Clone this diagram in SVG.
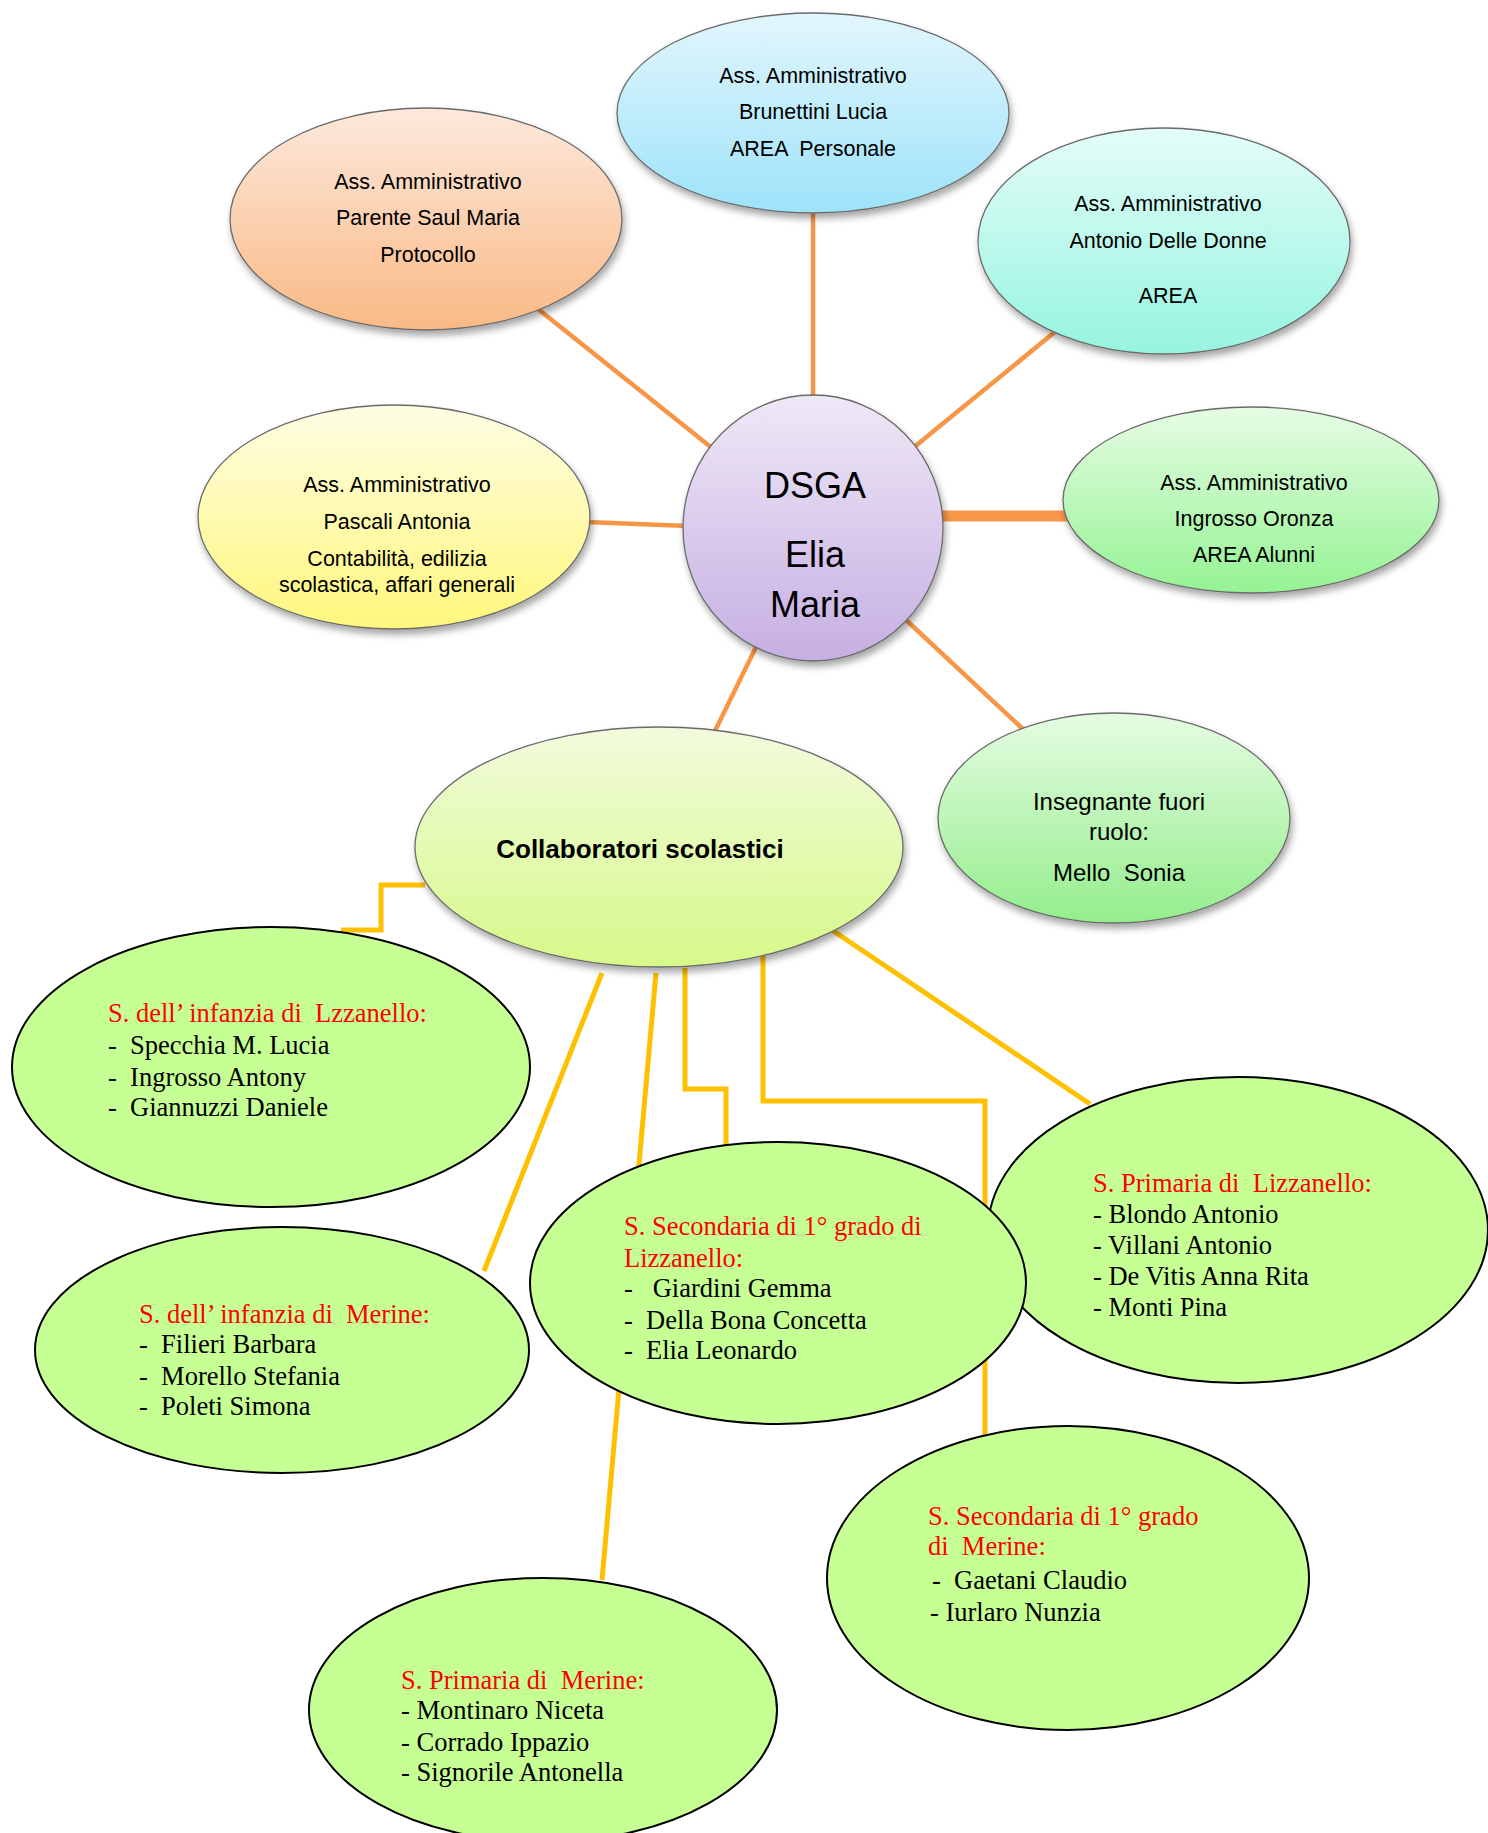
<svg xmlns="http://www.w3.org/2000/svg" width="1488" height="1833" viewBox="0 0 1488 1833">
<style>
.n{stroke:#6b6b6b;stroke-width:1.3;filter:url(#sh)}
.s{fill:#C6FF94;stroke:#000;stroke-width:2}
.t{font-family:"Liberation Sans",Arial,sans-serif;font-size:21.5px;fill:#000;text-anchor:middle}
.d{font-family:"Liberation Sans",Arial,sans-serif;font-size:36px;fill:#000;text-anchor:middle}
.b{font-family:"Liberation Sans",Arial,sans-serif;font-size:26px;font-weight:bold;fill:#000;text-anchor:middle}
.r{font-family:"Liberation Serif","Times New Roman",serif;font-size:26.5px;fill:#FF0000;white-space:pre}
.k{font-family:"Liberation Serif","Times New Roman",serif;font-size:26.5px;fill:#000;white-space:pre}
.o{stroke:#F79646;stroke-width:4.5;fill:none}
.y{stroke:#FFC000;stroke-width:5;fill:none}
</style>
<defs>
<filter id="sh" x="-10%" y="-10%" width="120%" height="130%">
<feDropShadow dx="2" dy="5" stdDeviation="3.5" flood-color="#000" flood-opacity="0.35"/>
</filter>
<linearGradient id="gBlue" x1="0" y1="0" x2="0" y2="1"><stop offset="0" stop-color="#E2F6FD"/><stop offset="1" stop-color="#9DE3F9"/></linearGradient>
<linearGradient id="gOrange" x1="0" y1="0" x2="0" y2="1"><stop offset="0" stop-color="#FDE9DC"/><stop offset="1" stop-color="#F9B985"/></linearGradient>
<linearGradient id="gAqua" x1="0" y1="0" x2="0" y2="1"><stop offset="0" stop-color="#E4FDF8"/><stop offset="1" stop-color="#96F4E0"/></linearGradient>
<linearGradient id="gYellow" x1="0" y1="0" x2="0" y2="1"><stop offset="0" stop-color="#FEFDE4"/><stop offset="1" stop-color="#FFF77C"/></linearGradient>
<linearGradient id="gLav" x1="0" y1="0" x2="0" y2="1"><stop offset="0" stop-color="#EFE8F7"/><stop offset="1" stop-color="#C6AFE2"/></linearGradient>
<linearGradient id="gGreen" x1="0" y1="0" x2="0" y2="1"><stop offset="0" stop-color="#E6FCE4"/><stop offset="1" stop-color="#95F393"/></linearGradient>
<linearGradient id="gLime" x1="0" y1="0" x2="0" y2="1"><stop offset="0" stop-color="#F2FBDD"/><stop offset="1" stop-color="#D6F989"/></linearGradient>
<linearGradient id="gGreen2" x1="0" y1="0" x2="0" y2="1"><stop offset="0" stop-color="#E5FCE2"/><stop offset="1" stop-color="#94EE8C"/></linearGradient>
</defs>
<rect width="1488" height="1833" fill="#fff"/>

<g id="connectors">
<line class="o" x1="813" y1="210" x2="813" y2="400"/>
<line class="o" x1="538" y1="309" x2="712" y2="448"/>
<line class="o" x1="1056" y1="331" x2="913" y2="448"/>
<line class="o" x1="586" y1="522" x2="688" y2="526"/>
<line class="o" x1="938" y1="516" x2="1068" y2="516" style="stroke-width:11"/>
<line class="o" x1="905" y1="619" x2="1026" y2="732"/>
<line class="o" x1="757" y1="645" x2="713" y2="735"/>
<polyline class="y" points="425,885 381,885 381,930 341,930"/>
<line class="y" x1="602" y1="973" x2="484" y2="1271"/>
<line class="y" x1="656" y1="973" x2="602" y2="1580"/>
<polyline class="y" points="685,968 685,1089 726,1089 726,1145"/>
<polyline class="y" points="763,945 763,1101 985,1101 985,1442"/>
<line class="y" x1="829" y1="928" x2="1090" y2="1104"/>
</g>

<g id="brunettini">
<ellipse class="n" cx="813" cy="113" rx="196" ry="100" fill="url(#gBlue)"/>
<text class="t" x="813" y="83">Ass. Amministrativo</text>
<text class="t" x="813" y="119">Brunettini Lucia</text>
<text class="t" x="813" y="156" style="white-space:pre">AREA  Personale</text>
</g>

<g id="parente">
<ellipse class="n" cx="426" cy="219" rx="196" ry="111" fill="url(#gOrange)"/>
<text class="t" x="428" y="189">Ass. Amministrativo</text>
<text class="t" x="428" y="225">Parente Saul Maria</text>
<text class="t" x="428" y="262">Protocollo</text>
</g>

<g id="delledonne">
<ellipse class="n" cx="1164" cy="241" rx="186" ry="113" fill="url(#gAqua)"/>
<text class="t" x="1168" y="211">Ass. Amministrativo</text>
<text class="t" x="1168" y="248">Antonio Delle Donne</text>
<text class="t" x="1168" y="303">AREA</text>
</g>

<g id="pascali">
<ellipse class="n" cx="394" cy="517" rx="196" ry="112" fill="url(#gYellow)"/>
<text class="t" x="397" y="492">Ass. Amministrativo</text>
<text class="t" x="397" y="529">Pascali Antonia</text>
<text class="t" x="397" y="566">Contabilità, edilizia</text>
<text class="t" x="397" y="592">scolastica, affari generali</text>
</g>

<g id="dsga">
<ellipse class="n" cx="813" cy="528" rx="130" ry="133" fill="url(#gLav)"/>
<text class="d" x="815" y="498">DSGA</text>
<text class="d" x="815" y="567">Elia</text>
<text class="d" x="815" y="617">Maria</text>
</g>

<g id="ingrosso">
<ellipse class="n" cx="1251" cy="500" rx="188" ry="93" fill="url(#gGreen)"/>
<text class="t" x="1254" y="490">Ass. Amministrativo</text>
<text class="t" x="1254" y="526">Ingrosso Oronza</text>
<text class="t" x="1254" y="562">AREA Alunni</text>
</g>

<g id="insegnante">
<ellipse class="n" cx="1114" cy="818" rx="176" ry="105" fill="url(#gGreen2)"/>
<text class="t" x="1119" y="810" style="font-size:24px">Insegnante fuori</text>
<text class="t" x="1119" y="840" style="font-size:24px">ruolo:</text>
<text class="t" x="1119" y="881" style="font-size:24px;white-space:pre">Mello  Sonia</text>
</g>

<g id="collaboratori">
<ellipse class="n" cx="659" cy="847" rx="244" ry="120" fill="url(#gLime)"/>
<text class="b" x="640" y="858">Collaboratori scolastici</text>
</g>

<g id="infanzia-lizzanello">
<ellipse class="s" cx="271" cy="1067" rx="259" ry="140"/>
<text class="r" x="108" y="1022">S. dell’ infanzia di  Lzzanello:</text>
<text class="k" x="108" y="1054">-  Specchia M. Lucia</text>
<text class="k" x="108" y="1086">-  Ingrosso Antony</text>
<text class="k" x="108" y="1116">-  Giannuzzi Daniele</text>
</g>

<g id="infanzia-merine">
<ellipse class="s" cx="282" cy="1350" rx="247" ry="123"/>
<text class="r" x="139" y="1323">S. dell’ infanzia di  Merine:</text>
<text class="k" x="139" y="1353">-  Filieri Barbara</text>
<text class="k" x="139" y="1385">-  Morello Stefania</text>
<text class="k" x="139" y="1415">-  Poleti Simona</text>
</g>

<g id="primaria-lizzanello">
<ellipse class="s" cx="1238" cy="1230" rx="250" ry="153"/>
<text class="r" x="1093" y="1192">S. Primaria di  Lizzanello:</text>
<text class="k" x="1093" y="1223">- Blondo Antonio</text>
<text class="k" x="1093" y="1254">- Villani Antonio</text>
<text class="k" x="1093" y="1285">- De Vitis Anna Rita</text>
<text class="k" x="1093" y="1316">- Monti Pina</text>
</g>

<g id="secondaria-lizzanello">
<ellipse class="s" cx="778" cy="1283" rx="248" ry="141"/>
<text class="r" x="624" y="1235">S. Secondaria di 1° grado di</text>
<text class="r" x="624" y="1267">Lizzanello:</text>
<text class="k" x="624" y="1297">-   Giardini Gemma</text>
<text class="k" x="624" y="1329">-  Della Bona Concetta</text>
<text class="k" x="624" y="1359">-  Elia Leonardo</text>
</g>

<g id="secondaria-merine">
<ellipse class="s" cx="1068" cy="1578" rx="241" ry="152"/>
<text class="r" x="928" y="1525">S. Secondaria di 1° grado</text>
<text class="r" x="928" y="1555">di  Merine:</text>
<text class="k" x="932" y="1589">-  Gaetani Claudio</text>
<text class="k" x="930" y="1621">- Iurlaro Nunzia</text>
</g>

<g id="primaria-merine">
<ellipse class="s" cx="543" cy="1710" rx="234" ry="132"/>
<text class="r" x="401" y="1689">S. Primaria di  Merine:</text>
<text class="k" x="401" y="1719">- Montinaro Niceta</text>
<text class="k" x="401" y="1751">- Corrado Ippazio</text>
<text class="k" x="401" y="1781">- Signorile Antonella</text>
</g>
</svg>
